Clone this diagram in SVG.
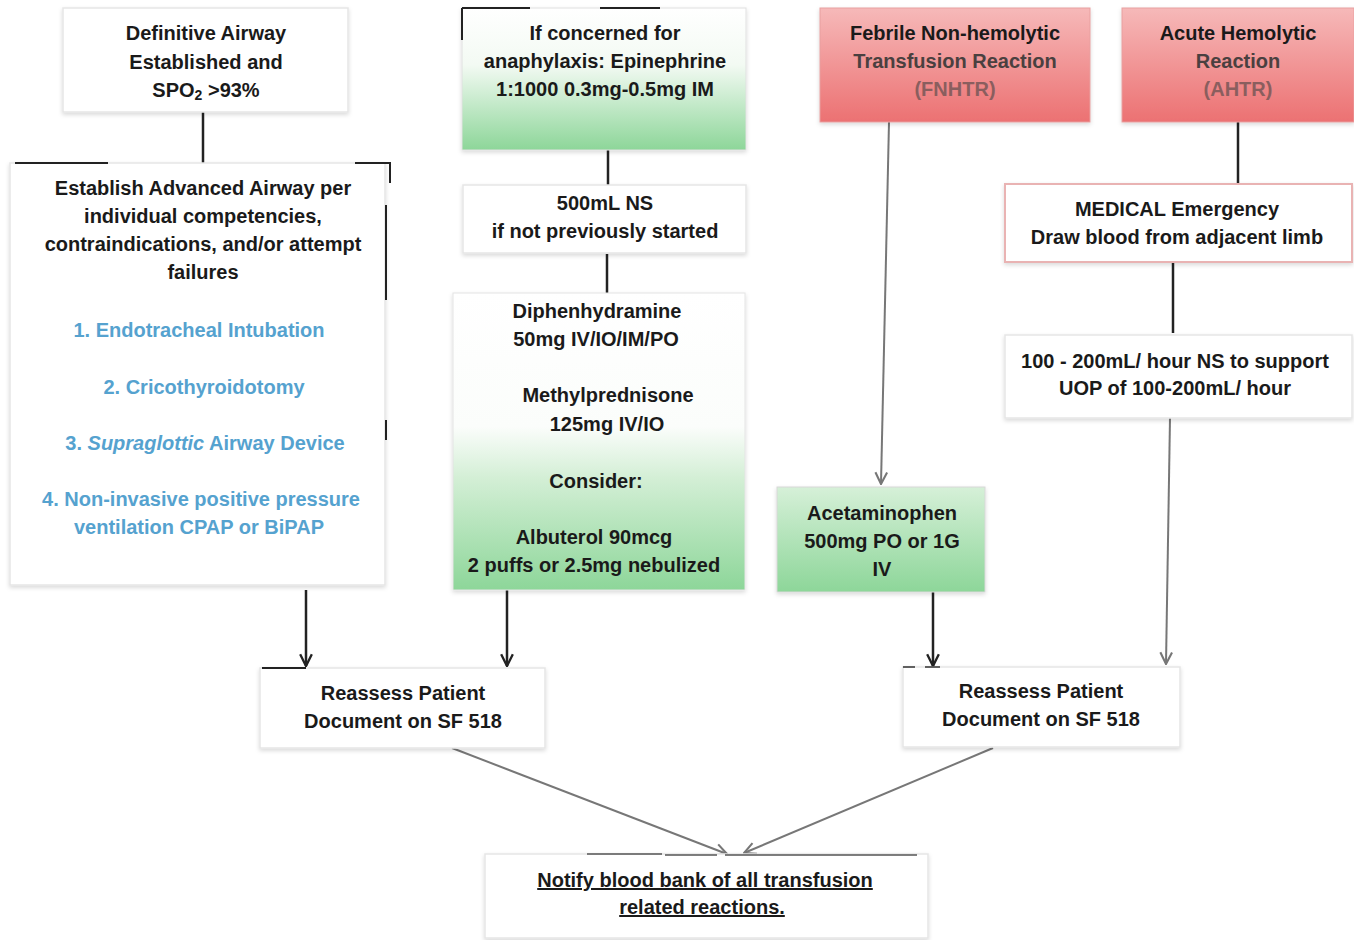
<svg xmlns="http://www.w3.org/2000/svg" width="1354" height="940" viewBox="0 0 1354 940">
<style>
.t{font-family:"Liberation Sans",Arial,sans-serif;font-weight:bold;font-size:20px;fill:#1a1a1a;text-anchor:middle}
.b{fill:#55a2cf}
.g2{fill:#4a4040}
.g3{fill:#8a5e5e}
.box{fill:#fff;stroke:#e6e6e6;stroke-width:1.5}
.dk{stroke:#222;stroke-width:2.5;fill:none}
.gr{stroke:#777;stroke-width:2;fill:none}
.frag{stroke:#222;stroke-width:2;fill:none}
</style>
<defs>
<linearGradient id="gA" x1="0" y1="0" x2="0" y2="1">
<stop offset="0" stop-color="#ffffff"/><stop offset="0.4" stop-color="#f3faf3"/><stop offset="1" stop-color="#8dd699"/>
</linearGradient>
<linearGradient id="gB" x1="0" y1="0" x2="0" y2="1">
<stop offset="0" stop-color="#ffffff"/><stop offset="0.45" stop-color="#fbfdfb"/><stop offset="0.62" stop-color="#d4efd6"/><stop offset="1" stop-color="#8dd699"/>
</linearGradient>
<linearGradient id="gC" x1="0" y1="0" x2="0" y2="1">
<stop offset="0" stop-color="#d6f0d8"/><stop offset="1" stop-color="#8dd699"/>
</linearGradient>
<linearGradient id="gR" x1="0" y1="0" x2="0" y2="1">
<stop offset="0" stop-color="#f6b9b9"/><stop offset="1" stop-color="#ec7172"/>
</linearGradient>
<filter id="sh" x="-5%" y="-5%" width="110%" height="115%">
<feDropShadow dx="0" dy="2" stdDeviation="2" flood-color="#000" flood-opacity="0.15"/>
</filter>
<marker id="ad" viewBox="0 0 12 12" refX="11" refY="6" markerWidth="14" markerHeight="14" markerUnits="userSpaceOnUse" orient="auto">
<path d="M1,1 L11,6 L1,11" fill="none" stroke="#222" stroke-width="2"/>
</marker>
<marker id="ag" viewBox="0 0 12 12" refX="11" refY="6" markerWidth="14" markerHeight="14" markerUnits="userSpaceOnUse" orient="auto">
<path d="M1,1 L11,6 L1,11" fill="none" stroke="#777" stroke-width="1.8"/>
</marker>
</defs>
<rect width="1354" height="940" fill="#fff"/>

<g id="connectors">
<line class="dk" x1="203" y1="112" x2="203" y2="163"/>
<line class="dk" x1="608" y1="150" x2="608" y2="185"/>
<line class="dk" x1="607" y1="254" x2="607" y2="293"/>
<line class="dk" x1="306" y1="590" x2="306" y2="666" marker-end="url(#ad)"/>
<line class="dk" x1="507" y1="590" x2="507" y2="666" marker-end="url(#ad)"/>
<line class="gr" x1="889" y1="122" x2="881" y2="484" marker-end="url(#ag)"/>
<line class="dk" x1="1238" y1="122" x2="1238" y2="183"/>
<line class="dk" x1="1173" y1="263" x2="1173" y2="333"/>
<line class="gr" x1="1170" y1="418" x2="1166" y2="664" marker-end="url(#ag)"/>
<line class="dk" x1="933" y1="592" x2="933" y2="666" marker-end="url(#ad)"/>
<line class="gr" x1="452" y1="748" x2="727" y2="854" marker-end="url(#ag)"/>
<line class="gr" x1="993" y1="748" x2="744" y2="853" marker-end="url(#ag)"/>
</g>

<g id="n-definitive">
<rect class="box" x="63" y="8" width="285" height="104" filter="url(#sh)"/>
<text class="t" x="206" y="40">Definitive Airway</text>
<text class="t" x="206" y="69">Established and</text>
<text class="t" x="206" y="97">SPO<tspan font-size="14" dy="3">2</tspan><tspan dy="-3"> &gt;93%</tspan></text>
</g>

<g id="n-advanced">
<rect class="box" x="10" y="163" width="375" height="422" filter="url(#sh)"/>
<path class="frag" d="M15,163 H108 M355,163 H390 V183 M386,205 V300 M386,420 V440"/>
<text class="t" x="203" y="195">Establish Advanced Airway per</text>
<text class="t" x="203" y="223">individual competencies,</text>
<text class="t" x="203" y="251">contraindications, and/or attempt</text>
<text class="t" x="203" y="279">failures</text>
<text class="t b" x="199" y="337">1. Endotracheal Intubation</text>
<text class="t b" x="204" y="394">2. Cricothyroidotomy</text>
<text class="t b" x="205" y="450">3. <tspan font-style="italic">Supraglottic</tspan> Airway Device</text>
<text class="t b" x="201" y="506">4.  Non-invasive positive pressure</text>
<text class="t b" x="199" y="534">ventilation CPAP or BiPAP</text>
</g>

<g id="n-epinephrine">
<rect x="462" y="8" width="284" height="142" fill="url(#gA)" stroke="#e0e0e0" filter="url(#sh)"/>
<path class="frag" d="M462,8 H530 M600,8 H660 M462,8 V40"/>
<text class="t" x="605" y="40">If concerned for</text>
<text class="t" x="605" y="68">anaphylaxis: Epinephrine</text>
<text class="t" x="605" y="96">1:1000 0.3mg-0.5mg IM</text>
</g>

<g id="n-ns500">
<rect class="box" x="463" y="185" width="283" height="68" filter="url(#sh)"/>
<text class="t" x="605" y="210">500mL NS</text>
<text class="t" x="605" y="238">if not previously started</text>
</g>

<g id="n-diphen">
<rect x="453" y="293" width="292" height="297" fill="url(#gB)" stroke="#e4e4e4" filter="url(#sh)"/>
<text class="t" x="597" y="318">Diphenhydramine</text>
<text class="t" x="596" y="346">50mg IV/IO/IM/PO</text>
<text class="t" x="608" y="402">Methylprednisone</text>
<text class="t" x="607" y="431">125mg IV/IO</text>
<text class="t" x="596" y="488">Consider:</text>
<text class="t" x="594" y="544">Albuterol 90mcg</text>
<text class="t" x="594" y="572">2 puffs or 2.5mg nebulized</text>
</g>

<g id="n-fnhtr">
<rect x="820" y="8" width="270" height="114" fill="url(#gR)" stroke="#e8a0a0" filter="url(#sh)"/>
<text class="t" x="955" y="40">Febrile Non-hemolytic</text>
<text class="t g2" x="955" y="68">Transfusion Reaction</text>
<text class="t g3" x="955" y="96">(FNHTR)</text>
</g>

<g id="n-ahtr">
<rect x="1122" y="8" width="232" height="114" fill="url(#gR)" stroke="#e8a0a0" filter="url(#sh)"/>
<text class="t" x="1238" y="40">Acute Hemolytic</text>
<text class="t g2" x="1238" y="68">Reaction</text>
<text class="t g3" x="1238" y="96">(AHTR)</text>
</g>

<g id="n-medical">
<rect x="1005" y="184" width="347" height="78" fill="#fff" stroke="#e9b3b3" stroke-width="2" filter="url(#sh)"/>
<text class="t" x="1177" y="216">MEDICAL Emergency</text>
<text class="t" x="1177" y="244">Draw blood from adjacent limb</text>
</g>

<g id="n-uop">
<rect class="box" x="1005" y="335" width="347" height="83" filter="url(#sh)"/>
<text class="t" x="1175" y="368">100 - 200mL/ hour NS to support</text>
<text class="t" x="1175" y="395">UOP of 100-200mL/ hour</text>
</g>

<g id="n-acetaminophen">
<rect x="777" y="487" width="208" height="105" fill="url(#gC)" stroke="#d8d8d8" filter="url(#sh)"/>
<text class="t" x="882" y="520">Acetaminophen</text>
<text class="t" x="882" y="548">500mg PO or 1G</text>
<text class="t" x="882" y="576">IV</text>
</g>

<g id="n-reassess-left">
<rect class="box" x="260" y="668" width="285" height="80" filter="url(#sh)"/>
<path class="frag" d="M262,668 H306"/>
<text class="t" x="403" y="700">Reassess Patient</text>
<text class="t" x="403" y="728">Document on SF 518</text>
</g>

<g id="n-reassess-right">
<rect class="box" x="903" y="667" width="277" height="80" filter="url(#sh)"/>
<path d="M903,667 H915 M925,667 H940" stroke="#333" stroke-width="1.5" fill="none"/>
<text class="t" x="1041" y="698">Reassess Patient</text>
<text class="t" x="1041" y="726">Document on SF 518</text>
</g>

<g id="n-notify">
<rect class="box" x="485" y="854" width="443" height="84" filter="url(#sh)"/>
<path d="M587,854 H662 M665,855 H717 M725,855 H917" stroke="#555" stroke-width="1.5" fill="none"/>
<text class="t" x="705" y="887" text-decoration="underline">Notify blood bank of all transfusion</text>
<text class="t" x="702" y="914" text-decoration="underline">related reactions.</text>
</g>
</svg>
